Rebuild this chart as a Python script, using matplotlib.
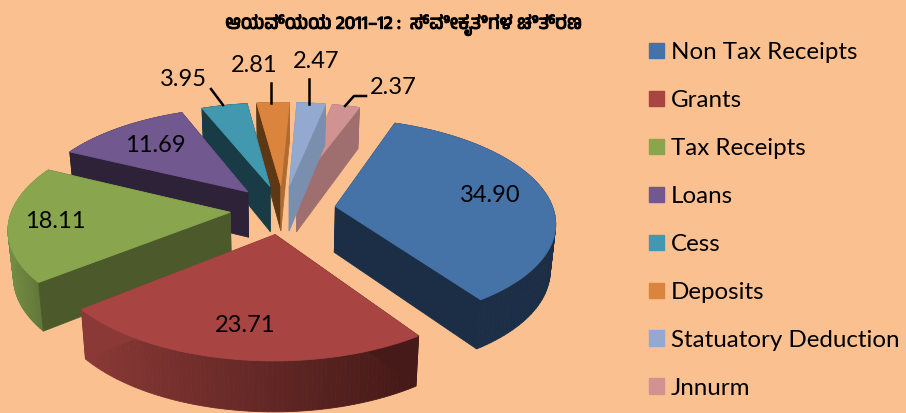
import matplotlib.pyplot as plt
import matplotlib.patches as mpatches
import matplotlib.patheffects as pe
import numpy as np

# values
names = ['Non Tax Receipts', 'Grants', 'Tax Receipts', 'Loans', 'Cess', 'Deposits',
         'Statuatory Deduction', 'Jnnurm']
shares = [34.90, 23.71, 18.11, 11.69, 3.95, 2.81, 2.47, 2.37]
share_text = ['34.90', '23.71', '18.11', '11.69', '3.95', '2.81', '2.47', '2.37']
title = 'ಆಯವ್ಯಯ 2011–12 :  ಸ್ವೀಕೃತಿಗಳ ಚಿತ್ರಣ'

# colours: top face, wall at first edge, wall at last edge, outer wall (left, right)
top_col = ['#4572A7', '#A84442', '#89A54E', '#71588F', '#4198AF', '#DB843D', '#93A9CF', '#D09392']
wall_a = ['#1B2E46', '#451A18', '#4C5A2B', '#2D2238', '#193B46', '#5E3815', '#7A8FAD', '#9F6F70']
wall_b = ['#1B2E46', '#8A3936', '#4C5A2B', '#2D2238', '#193B46', '#B06C30', '#7A8FAD', '#9F6F70']
arc_l = ['#1D3049', '#8A3936', '#728D43', '#2D2238', '#193B46', '#B06C30', '#7A8FAD', '#9F6F70']
arc_r = ['#1B2E46', '#431917', '#5C7035', '#2D2238', '#193B46', '#B06C30', '#7A8FAD', '#9F6F70']
bg = '#FBC08F'

# projection of the tilted pie, fitted by eye
start = 20.0
explode = 0.243
cx, cy = 283.0, 209.5
sx, sy = 218.0, 101.0
px, py = 0.14, 0.139


def project(u, v):
    return cx + sx * u / (1 + px * v), cy - sy * v / (1 + py * v)


def drop(u, v):
    # bottom of the wall under a top-face point
    x, y = project(u, v)
    return cx + (x - cx) * 0.98, y + 46 - 4 * v


def quad(ax, u, v, col):
    xt, yt = project(u, v)
    xb, yb = drop(u, v)
    ax.fill(np.r_[xt, xb[::-1]], np.r_[yt, yb[::-1]], color=col, lw=0.6)


def mix(a, b, t):
    ca, cb = np.array(plt.matplotlib.colors.to_rgb(a)), np.array(plt.matplotlib.colors.to_rgb(b))
    return tuple(ca + (cb - ca) * t)


fig = plt.figure(figsize=(9.06, 4.13), dpi=100, facecolor=bg)
ax = fig.add_axes([0, 0, 1, 1])
ax.set_xlim(0, 906)
ax.set_ylim(413, 0)
ax.axis('off')

edges = start + 360 * np.r_[0, np.cumsum(shares)] / np.sum(shares)

# back slices first, front ones over them
for i in [7, 6, 5, 4, 3, 0, 2, 1]:
    t1, t2 = edges[i], edges[i + 1]
    mid = np.radians((t1 + t2) / 2)
    u0, v0 = explode * np.sin(mid), explode * np.cos(mid)
    th = np.radians(np.linspace(t1, t2, 80))
    u = u0 + np.sin(th)
    v = v0 + np.cos(th)

    # outer wall, split up for the shading
    x_all = project(u, v)[0]
    for k in range(len(th) - 1):
        quad(ax, u[k:k + 2], v[k:k + 2], mix(arc_l[i], arc_r[i], (x_all[k] - x_all.min()) / np.ptp(x_all)))

    quad(ax, np.array([u0, u[0]]), np.array([v0, v[0]]), wall_a[i])
    quad(ax, np.array([u0, u[-1]]), np.array([v0, v[-1]]), wall_b[i])

    xs, ys = project(np.r_[u0, u], np.r_[v0, v])
    ax.fill(xs, ys, color=top_col[i], lw=0.6)

label_font = ['Lato', 'DejaVu Sans']
label_pos = [(490, 196), (245, 326), (55, 222), (155, 146), (183, 80), (254, 66), (316, 62), (393, 88)]
for txt, pos in zip(share_text, label_pos):
    ax.text(pos[0], pos[1], txt, ha='center', va='center', fontsize=17, family=label_font, color='black')

# leader lines of the small slices
ax.plot([211, 223], [89, 105], color='black', lw=1.8)
ax.plot([271, 271], [83, 103], color='black', lw=1.8)
ax.plot([309, 309], [79, 104], color='black', lw=1.8)
ax.plot([345, 354, 366], [106, 96, 96], color='black', lw=1.8)

handles = [mpatches.Patch(color=c, label=n) for c, n in zip(top_col, names)]
ax.legend(handles=handles, loc='upper left', bbox_to_anchor=(649 / 906, 1 - 42 / 413), frameon=False,
          prop={'family': 'Lato', 'size': 17.4}, labelspacing=1.116, handlelength=0.62, handleheight=0.62,
          handletextpad=0.29, borderpad=0, borderaxespad=0)

ax.text(403, 25, title, ha='center', va='center', fontsize=13.3, fontweight='bold',
        family=['Anek Kannada', 'DejaVu Sans'], color='black',
        path_effects=[pe.withStroke(linewidth=0.7, foreground='black')])

fig.savefig('out.png', dpi=100, facecolor=bg)
